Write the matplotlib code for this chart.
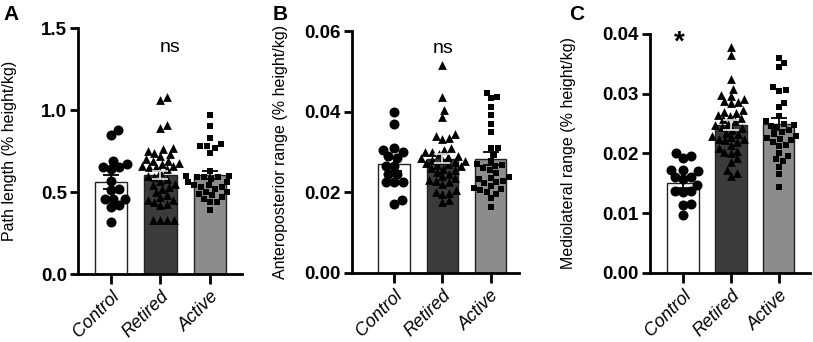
import numpy as np
import matplotlib
matplotlib.use("Agg")
import matplotlib.pyplot as plt

plt.rcParams['font.family'] = ['Liberation Sans', 'DejaVu Sans']

groups = ["Control", "Retired", "Active"]

# Panel A: Path length (% height/kg)
a_control = [0.88, 0.85, 0.69, 0.67, 0.65, 0.64, 0.65, 0.57, 0.52, 0.51,
             0.46, 0.46, 0.46, 0.42, 0.41, 0.32]
a_retired = [1.08, 1.06, 0.91, 0.89, 0.77, 0.76, 0.75, 0.74, 0.73, 0.72,
             0.70, 0.69, 0.69, 0.68, 0.67, 0.66, 0.66, 0.65, 0.65, 0.64,
             0.62, 0.60, 0.59, 0.58, 0.57, 0.55, 0.54, 0.53, 0.52, 0.50,
             0.48, 0.47, 0.45, 0.45, 0.44, 0.43, 0.42, 0.33, 0.33, 0.33, 0.33]
a_active = [0.97, 0.90, 0.83, 0.79, 0.78, 0.78, 0.77, 0.74, 0.63, 0.60,
            0.60, 0.59, 0.59, 0.59, 0.58, 0.56, 0.56, 0.54, 0.54, 0.53,
            0.53, 0.52, 0.50, 0.50, 0.49, 0.48, 0.47, 0.46, 0.44, 0.44, 0.39]
a_means = [0.561, 0.606, 0.603]
a_sems = [0.043, 0.024, 0.026]

# Panel B: Anteroposterior range (% height/kg)
b_control = [0.040, 0.037, 0.031, 0.030, 0.0305, 0.029, 0.0285, 0.0265,
             0.0265, 0.0245, 0.0245, 0.0225, 0.0225, 0.0225, 0.018, 0.017]
b_retired = [0.0515, 0.0437, 0.0404, 0.0387, 0.0345, 0.0340, 0.0335, 0.0333,
             0.031, 0.0305, 0.030, 0.030, 0.0295, 0.029, 0.0288, 0.0285,
             0.028, 0.028, 0.0278, 0.0275, 0.0272, 0.027, 0.0268, 0.0265,
             0.026, 0.0258, 0.0255, 0.025, 0.0245, 0.024, 0.0235, 0.023,
             0.0228, 0.0225, 0.022, 0.0205, 0.020, 0.0198, 0.0195, 0.018, 0.0177]
b_active = [0.0447, 0.0437, 0.0433, 0.0413, 0.0393, 0.0369, 0.035, 0.031,
            0.031, 0.0293, 0.0278, 0.027, 0.0268, 0.0265, 0.026, 0.0255,
            0.0247, 0.0238, 0.0235, 0.0232, 0.0228, 0.0225, 0.0222, 0.0215,
            0.021, 0.0208, 0.0205, 0.020, 0.0196, 0.0185, 0.0163]
b_means = [0.0270, 0.0284, 0.0284]
b_sems = [0.0017, 0.0011, 0.0017]

# Panel C: Mediolateral range (% height/kg)
c_control = [0.0200, 0.0195, 0.0193, 0.0173, 0.0173, 0.0170, 0.0160, 0.0160,
             0.0158, 0.0148, 0.0138, 0.0137, 0.0135, 0.0115, 0.0113, 0.0097]
c_retired = [0.0378, 0.0365, 0.0325, 0.0308, 0.0298, 0.0297, 0.0292, 0.0288,
             0.0287, 0.0285, 0.0272, 0.0270, 0.0268, 0.0265, 0.0263, 0.0260,
             0.0258, 0.0255, 0.0250, 0.0248, 0.0245, 0.0242, 0.0240, 0.0235,
             0.0232, 0.0230, 0.0228, 0.0225, 0.0225, 0.0222, 0.0220, 0.0215,
             0.0210, 0.0205, 0.0202, 0.0200, 0.0192, 0.0185, 0.0172, 0.0168, 0.0162]
c_active = [0.0360, 0.0352, 0.0344, 0.0311, 0.0306, 0.0305, 0.0285, 0.0277,
            0.0262, 0.0255, 0.0250, 0.0248, 0.0246, 0.0245, 0.0240, 0.0236,
            0.0232, 0.0230, 0.0226, 0.0225, 0.0223, 0.0220, 0.0215, 0.0213,
            0.0200, 0.0196, 0.0190, 0.0188, 0.0178, 0.0165, 0.0144]
c_means = [0.0150, 0.0248, 0.0250]
c_sems = [0.0007, 0.0008, 0.0010]

panels = [
    dict(letter="A", ylabel="Path length (% height/kg)",
         data=[a_control, a_retired, a_active], means=a_means, sems=a_sems,
         yticks=[0.0, 0.5, 1.0, 1.5], fmt="{:.1f}", ylim=1.5,
         rect=[0.0959, 0.1988, 0.2018, 0.7192], xlim=(-0.67, 2.65),
         ylab_x=-0.37, annot="ns", annot_x=1.2, annot_y=1.38),
    dict(letter="B", ylabel="Anteroposterior range (% height/kg)",
         data=[b_control, b_retired, b_active], means=b_means, sems=b_sems,
         yticks=[0.0, 0.02, 0.04, 0.06], fmt="{:.2f}", ylim=0.06,
         rect=[0.433, 0.2018, 0.205, 0.7072], xlim=(-0.87, 2.58),
         ylab_x=-0.385, annot="ns", annot_x=1.02, annot_y=0.0558),
    dict(letter="C", ylabel="Mediolateral range (% height/kg)",
         data=[c_control, c_retired, c_active], means=c_means, sems=c_sems,
         yticks=[0.0, 0.01, 0.02, 0.03, 0.04], fmt="{:.2f}", ylim=0.04,
         rect=[0.7995, 0.2018, 0.1968, 0.6988], xlim=(-0.69, 2.65),
         ylab_x=-0.46, annot="*", annot_x=-0.08, annot_y=0.0385),
]

bar_colors = ["#ffffff", "#3b3b3b", "#8c8c8c"]
err_colors = ["#000000", "#d8d8d8", "#000000"]
markers = ["o", "^", "s"]
msizes = [52, 40, 20]
spacing = [8.5, 7.0, 7.0]
letter_x = [0.004, 0.335, 0.70]

fig = plt.figure(figsize=(8.13, 3.42), dpi=100)


def swarm(ax, xc, vals, D):
    vals = np.asarray(vals, dtype=float)
    pts = ax.transData.transform(np.column_stack([np.full(len(vals), xc), vals]))
    ys = pts[:, 1]
    x0 = pts[0, 0]
    order = np.argsort(ys)
    placed = []
    xs = np.zeros(len(vals))
    for i in order:
        y = ys[i]
        cands = [0.0]
        for (px, py) in placed:
            dy = y - py
            if abs(dy) < D:
                dx = np.sqrt(D * D - dy * dy)
                cands += [px + dx, px - dx]
        cands.sort(key=abs)
        for c in cands:
            if all((c - px) ** 2 + (y - py) ** 2 >= D * D - 1e-6 for px, py in placed):
                xs[i] = c
                break
        placed.append((xs[i], y))
    disp = np.column_stack([x0 + xs, ys])
    return ax.transData.inverted().transform(disp)[:, 0]


for p, lx in zip(panels, letter_x):
    ax = fig.add_axes(p["rect"])
    x = np.arange(3)
    ax.set_xlim(*p["xlim"])
    ax.set_ylim(0, p["ylim"])
    ax.bar(x, p["means"], width=0.65, color=bar_colors, edgecolor="#222222",
           linewidth=1.0, zorder=2)
    for i in range(3):
        xs = swarm(ax, i, p["data"][i], spacing[i])
        ax.scatter(xs, p["data"][i], marker=markers[i], s=msizes[i],
                   color="black", linewidths=0, zorder=3, clip_on=False)
        ax.errorbar(i, p["means"][i], yerr=p["sems"][i], fmt="none",
                    ecolor=err_colors[i], elinewidth=1.3, capsize=6,
                    capthick=1.3, zorder=4)
    for s in ["top", "right"]:
        ax.spines[s].set_visible(False)
    for s in ["left", "bottom"]:
        ax.spines[s].set_linewidth(2.0)
    ax.set_yticks(p["yticks"])
    ax.set_yticklabels([p["fmt"].format(v) for v in p["yticks"]],
                       fontsize=13.5, fontweight="bold")
    ax.set_xticks(x)
    ax.set_xticklabels(groups, fontsize=13, style="italic", rotation=45,
                       ha="right", rotation_mode="anchor")
    ax.tick_params(axis="y", length=6, width=2.0, pad=2)
    ax.tick_params(axis="x", length=7, width=2.0, pad=3)
    ax.set_ylabel(p["ylabel"], fontsize=11.5)
    ax.yaxis.set_label_coords(p["ylab_x"], 0.5)
    if p["annot"] == "*":
        ax.text(p["annot_x"], p["annot_y"], "*", ha="center", va="center",
                fontsize=20, fontweight="bold")
    else:
        ax.text(p["annot_x"], p["annot_y"], p["annot"], ha="center",
                va="center", fontsize=14)
    fig.text(lx, 0.985, p["letter"], ha="left", va="top", fontsize=15,
             fontweight="bold")

fig.savefig("out.png", dpi=100)
